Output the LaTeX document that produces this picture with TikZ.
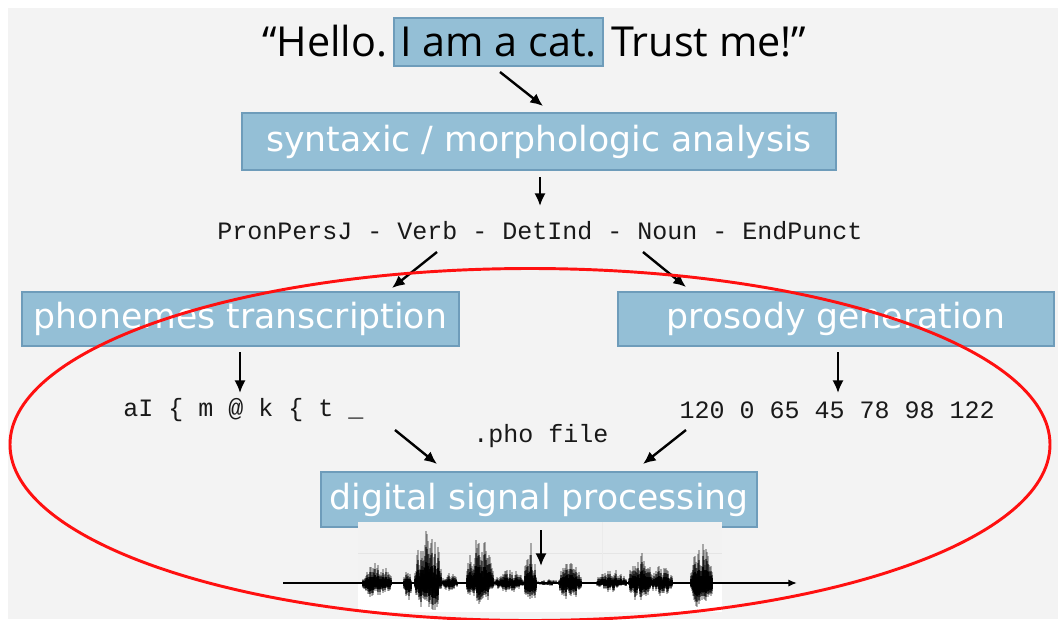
\documentclass[tikz,border=0pt]{standalone}
\usepackage{fontspec}
\usetikzlibrary{arrows.meta}
\newfontfamily\boxfont{DejaVu Sans}
\newfontfamily\codefont{Liberation Mono}
\newfontfamily\quotefont{Open Sans}
\definecolor{paper}{HTML}{F3F3F3}
\definecolor{boxblue}{HTML}{94BFD6}
\definecolor{boxedge}{HTML}{6E9CBA}
\definecolor{ringred}{HTML}{FF1010}
\tikzset{
  stagebox/.style={fill=boxblue, draw=boxedge, line width=0.9pt, text=white,
    font=\boxfont\fontsize{26pt}{30pt}\selectfont, inner sep=0pt},
  codetext/.style={font=\codefont\fontsize{18.75pt}{22pt}\selectfont, inner sep=0pt, text=black!90},
  arr/.style={line width=1.8pt, -{Latex[length=9.5pt,width=8.5pt]}},
  quote/.style={font=\quotefont\fontsize{31pt}{36pt}\selectfont, inner sep=0pt},
  wavefaint/.style={line width=0.9pt, black, opacity=0.3},
  wavemid/.style={line width=0.9pt, black, opacity=0.5},
  wavecore/.style={line width=0.9pt, black, opacity=0.9},
}
\begin{document}
\begin{tikzpicture}[x=0.75pt, y=-0.75pt]
  % page and paper
  \useasboundingbox (0,0) rectangle (1058,619);
  \fill[white] (0,0) rectangle (1058,619);
  \fill[paper] (8,8) rectangle (1058,619);

  % input sentence with the highlighted clause
  \node[quote, fill=boxblue, draw=boxedge, line width=0.8pt,
        minimum width=156.75pt, minimum height=36pt] (hl) at (498.5,42) {I am a cat.};
  \node[quote, anchor=base east] (pre) at ([xshift=-4.5pt]hl.base west) {“Hello.};
  \node[quote, anchor=base west] (post) at ([xshift=5.5pt]hl.base east) {Trust me!”};

  % processing stages
  \node[stagebox, minimum width=445.5pt, minimum height=42.75pt] (syn) at (539,141.5)
    {syntaxic / morphologic analysis};
  \node[codetext] (tags) at (540,231) {PronPersJ - Verb - DetInd - Noun - EndPunct};
  \node[stagebox, minimum width=327.75pt, minimum height=40.5pt] (pho) at (240.5,319)
    {phonemes transcription};
  \node[stagebox, minimum width=327pt, minimum height=40.5pt] (pros) at (836,319)
    {prosody generation};
  \node[codetext, anchor=west] (phon) at (123,410) {aI \{ m @ k \{ t \_};
  \node[codetext, anchor=east] (f0) at (995,410) {120 0 65 45 78 98 122};
  \node[codetext] (pho file) at (541,436) {.pho file};
  \node[stagebox, minimum width=327pt, minimum height=41.25pt] (dsp) at (539,499.5)
    {digital signal processing};

  % connector end points
  \coordinate (a1s) at (500,72);  \coordinate (a1e) at (543,106);
  \coordinate (a2s) at (540,177); \coordinate (a2e) at (540,206);
  \coordinate (a3s) at (437,252); \coordinate (a3e) at (392,288);
  \coordinate (a4s) at (643,252); \coordinate (a4e) at (686,287);
  \coordinate (a5s) at (240,352); \coordinate (a5e) at (240,393);
  \coordinate (a6s) at (838,352); \coordinate (a6e) at (838,393);
  \coordinate (a7s) at (395,430); \coordinate (a7e) at (437,464);
  \coordinate (a8s) at (686,430); \coordinate (a8e) at (643,464);
  \coordinate (a9s) at (541,530); \coordinate (a9e) at (541,566);
  \coordinate (ax0) at (283,583); \coordinate (ax1) at (797,583);

  % speech waveform
  \fill[white] (358,522) rectangle (722,612);
  \fill[black!5] (358,522) rectangle (722,583);
  \draw[black!10, line width=0.5pt] (358,553) -- (722,553);
  \draw[black!8, line width=0.5pt] (602,522) -- (602,583);
  \pgfmathsetseed{11}
  \foreach \a/\b/\u/\d in {362/392/21/17, 403/412/14/19, 414/442/54/32, 442/458/12/9,
      466/494/45/22, 494/524/14/10, 524/537/40/26, 537/560/4/3, 558/582/21/17,
      596/627/14/9, 628/652/31/19, 650/673/18/13, 690/713/40/27} {
    \foreach \x in {\a,...,\b} {
      \pgfmathsetmacro\env{abs(sin(180*(\x-\a)/(\b-\a)))^0.45}
      \pgfmathsetmacro\up{\u*(0.3+0.7*rnd)*\env}
      \pgfmathsetmacro\dn{\d*(0.3+0.7*rnd)*\env}
      \draw[wavefaint] (\x,583-\up) -- (\x,583+\dn);
      \draw[wavemid] (\x,583-0.7*\up) -- (\x,583+0.8*\dn);
      \draw[wavecore] (\x,583-0.4*\up) -- (\x,583+0.55*\dn);
    }
  }
  \draw[line width=1.3pt, -{Latex[length=6.5pt,width=5.5pt]}] (ax0) -- (ax1);

  % arrows
  \draw[arr] (a1s) -- (a1e);
  \draw[arr] (a2s) -- (a2e);
  \draw[arr] (a3s) -- (a3e);
  \draw[arr] (a4s) -- (a4e);
  \draw[arr] (a5s) -- (a5e);
  \draw[arr] (a6s) -- (a6e);
  \draw[arr] (a7s) -- (a7e);
  \draw[arr] (a8s) -- (a8e);
  \draw[arr] (a9s) -- (a9e);

  % the synthesis back end
  \draw[ringred, line width=2.2pt] (530,444.5) ellipse [x radius=390pt, y radius=132pt];
\end{tikzpicture}
\end{document}
